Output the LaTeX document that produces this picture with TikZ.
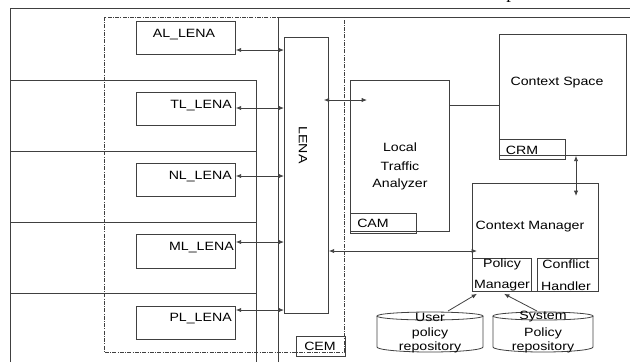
\documentclass[tikz,border=0pt]{standalone}
\usepackage{fontspec}
\setmainfont{Liberation Sans}[FakeStretch=1.18]
\newfontfamily\topserif{Liberation Serif}
\usetikzlibrary{arrows.meta,calc}
\tikzset{
  ln/.style={draw=black!75, line width=0.6pt},
  bx/.style 2 args={ln, rectangle, minimum width=#1*0.75pt, minimum height=#2*0.75pt, inner sep=0pt, anchor=north west},
  txt/.style={font=\fontsize{9}{10}\selectfont, inner sep=0pt, text=black},
  arr/.style={ln, {Latex[length=4pt,width=3.2pt]}-{Latex[length=4pt,width=3.2pt]}},
  arrto/.style={ln, -{Latex[length=4pt,width=3.2pt]}},
}
\begin{document}
\begin{tikzpicture}[x=0.75pt,y=-0.75pt]
\useasboundingbox (0,0) rectangle (630,362);
% partial title glyph (cut by the top edge, as in the reference)
\node[font=\topserif\fontsize{14}{14}\selectfont, anchor=base, inner sep=0pt] (ptx) at (511,-1.5) {p};
% outer frames
\draw[ln] (10,362) -- (10,8) -- (630,8);
\draw[ln] (10,80) -- (256,80) -- (256,362);
\foreach \yy in {151,222,293} \draw[ln] (10,\yy) -- (256,\yy);
\draw[ln, dash pattern=on 3pt off 1pt on 0.6pt off 1pt] (104,17) rectangle (344,352);
\draw[ln] (278,362) -- (278,17) -- (630,17);
% boxes
\node[bx={99}{33}] (al) at (136,21) {};
\node[bx={99}{33}] (tl) at (136,92) {};
\node[bx={99}{33}] (nl) at (136,163) {};
\node[bx={99}{34}] (ml) at (136,234) {};
\node[bx={99}{33}] (pl) at (136,306) {};
\node[bx={44}{276}] (lena) at (284,37) {};
\node[bx={99}{151}] (lta) at (350,80) {};
\node[bx={66}{20}] (cam) at (350,213) {};
\node[bx={127}{121}] (cs) at (499,34) {};
\node[bx={66}{20}] (crm) at (499,139) {};
\node[bx={126}{108}] (cm) at (472,183) {};
\node[bx={59}{33}] (pm) at (472,258) {};
\node[bx={61}{33}] (ch) at (537,258) {};
\node[bx={49}{20}] (cem) at (296,336) {};
% texts
\node[txt] (altx) at (184,35) {AL\_LENA};
\node[txt, anchor=east] (tltx) at (232,106) {TL\_LENA};
\node[txt, anchor=east] (nltx) at (232,177) {NL\_LENA};
\node[txt, anchor=east] (mltx) at (234,248) {ML\_LENA};
\node[txt, anchor=east] (pltx) at (232,319) {PL\_LENA};
\node[txt, rotate=-90] (lenatx) at (303,145) {LENA};
\node[txt] (lta1) at (400,147) {Local};
\node[txt] (lta2) at (400,166) {Traffic};
\node[txt] (lta3) at (400,184) {Analyzer};
\node[txt] (camtx) at (373,223) {CAM};
\node[txt] (cstx) at (557,83) {Context Space};
\node[txt] (crmtx) at (522,150) {CRM};
\node[txt] (cmtx) at (530,227) {Context Manager};
\node[txt] (pm1) at (502,264) {Policy};
\node[txt] (pm2) at (502,286) {Manager};
\node[txt] (ch1) at (566,264) {Conflict};
\node[txt] (ch2) at (566,286) {Handler};
\node[txt] (cemtx) at (320,346) {CEM};
% cylinders
\coordinate (upc) at (430,316);
\draw[ln] (377,316) -- (377,347) arc[start angle=180,end angle=0,x radius=53,y radius=5] -- (483,316);
\draw[ln] (upc) ellipse [x radius=53, y radius=4];
\coordinate (spc) at (543,316);
\draw[ln] (493,316) -- (493,347) arc[start angle=180,end angle=0,x radius=50,y radius=5] -- (593,316);
\draw[ln] (spc) ellipse [x radius=50, y radius=4];
\node[txt] (u1) at (430,317) {User};
\node[txt] (u2) at (430,333) {policy};
\node[txt] (u3) at (430,347) {repository};
\node[txt] (s1) at (543,317) {System};
\node[txt] (s2) at (543,333) {Policy};
\node[txt] (s3) at (543,347) {repository};
% connectors
\draw[arr] (al.east |- 0,50) -- (lena.west |- 0,50);
\draw[arr] (tl.east |- 0,108) -- (lena.west |- 0,108);
\draw[arr] (nl.east |- 0,176) -- (lena.west |- 0,176);
\draw[arr] (ml.east |- 0,242) -- (lena.west |- 0,242);
\draw[arr] (pl.east |- 0,310) -- (lena.west |- 0,310);
\draw[arr] ($(lena.east |- 0,100)+(-5,0)$) -- ($(lta.west |- 0,100)+(17,0)$);
\draw[ln] (lta.east |- 0,105) -- (cs.west |- 0,105);
\draw[arr] (cs.south -| 576,0) -- ($(cm.north -| 576,0)+(0,13)$);
\draw[arr] (lena.east |- 0,251) -- ($(cm.west |- 0,251)+(5,0)$);
\coordinate (ua) at (448,311);
\coordinate (sa) at (537,311);
\draw[arrto] (ua) -- ($(pm.south west)+(5,2)$);
\draw[arrto] (sa) -- ($(pm.south west)+(32,2)$);
\end{tikzpicture}
\end{document}
